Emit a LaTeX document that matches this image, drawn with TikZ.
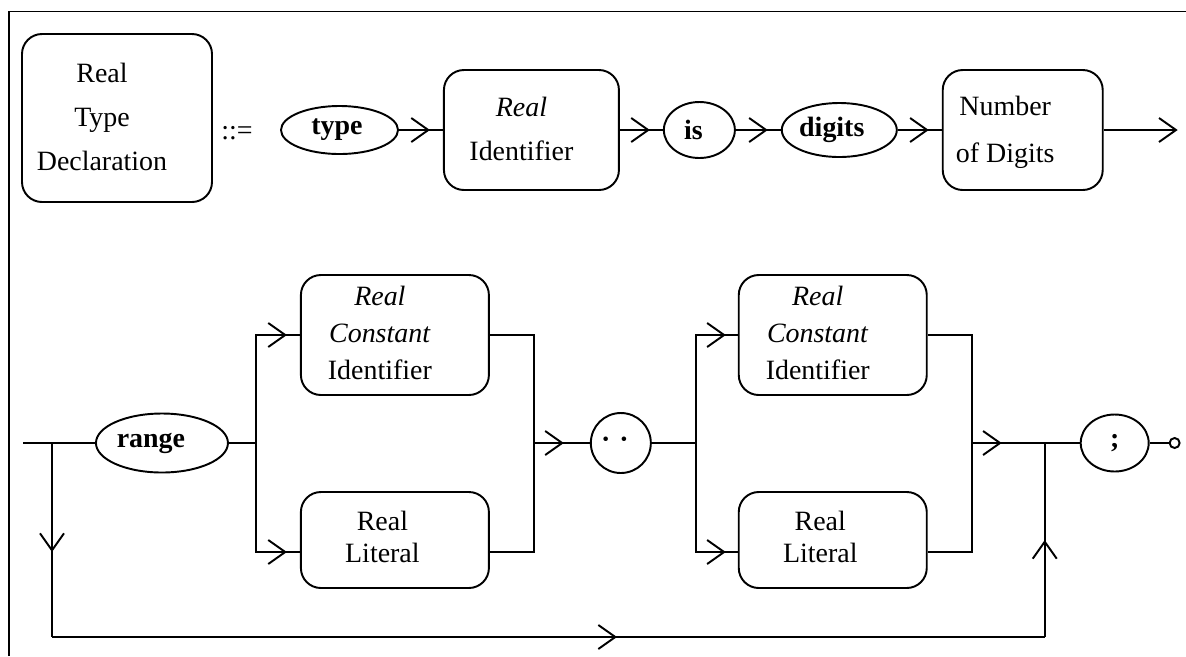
\documentclass[tikz,border=0pt]{standalone}
\usepackage{fontspec}
\setmainfont{Liberation Serif}
\usetikzlibrary{shapes.geometric,arrows.meta,positioning,decorations.markings,calc}

\newcommand{\lefted}[2][0.6cm]{\begin{tabular}{@{}c@{}}#2\end{tabular}\hspace*{#1}}

\begin{document}
\begin{tikzpicture}[line width=1.1pt,font=\fontsize{15.9}{25}\selectfont,
    box/.style={draw,rounded corners=0.4cm,align=center,inner sep=0pt},
    oval/.style={draw,ellipse,inner sep=0pt},
    chev/.style={postaction={decorate},decoration={markings,
        mark=at position #1 with {\arrow{Straight Barb[length=0.34cm,width=0.48cm]}}}},
    chev/.default=-0.26cm]

    \useasboundingbox (0,0) rectangle (23.72,-13.12);
    \draw (0.18,-13.12) -- (0.18,-0.23) -- (23.72,-0.23);

    % first line
    \node[box,minimum width=3.8cm,minimum height=3.36cm] (rtd) at (2.34,-2.36) {\lefted{Real\\Type\\Declaration}};
    \node (eq) at (4.74,-2.66) {::=};
    \node[oval,minimum width=2.34cm,minimum height=0.96cm] (type) at (6.79,-2.6) {\textbf{type}\hspace*{0.1cm}};
    \node[box,minimum width=3.5cm,minimum height=2.4cm,right=0.88cm of type] (rid) {\lefted[0.4cm]{\textit{Real}\\Identifier}};
    \node[oval,minimum width=1.42cm,minimum height=1.12cm,right=0.86cm of rid] (is) {\textbf{is}\hspace*{0.24cm}};
    \node[oval,minimum width=2.3cm,minimum height=1.08cm,right=0.9cm of is] (digits) {\textbf{digits}\hspace*{0.3cm}};
    \node[box,minimum width=3.2cm,minimum height=2.4cm,right=0.88cm of digits,font=\fontsize{15.9}{26.6}\selectfont] (nod) {\lefted[0.7cm]{Number\\of Digits}};
    \coordinate[right=1.48cm of nod] (out);

    \draw[chev] (type) -- (rid);
    \draw[chev] (rid) -- (is);
    \draw[chev] (is) -- (digits);
    \draw[chev] (digits) -- (nod);
    \draw[-{Straight Barb[length=0.34cm,width=0.48cm]}] (nod) -- (out);

    % second line
    \coordinate (start) at (0.46,-8.86);
    \coordinate[right=0.58cm of start] (jl);
    \node[oval,minimum width=2.64cm,minimum height=1.18cm,right=1.44cm of start] (range) {\textbf{range}\hspace*{0.44cm}};
    \coordinate[right=0.55cm of range] (s1);
    \node[box,minimum width=3.76cm,minimum height=2.4cm,right=0.87cm of s1,yshift=2.16cm,font=\fontsize{15.9}{21}\selectfont] (rci1) {\lefted{\textit{Real}\\\textit{Constant}\\Identifier}};
    \node[box,minimum width=3.76cm,minimum height=1.92cm,right=0.87cm of s1,yshift=-1.94cm,font=\fontsize{15.9}{18}\selectfont] (rl1) {\lefted[0.5cm]{Real\\Literal}};
    \path (rci1.east |- s1) ++(0.88,0) coordinate (m1);
    \node[draw,circle,minimum size=1.2cm,inner sep=0pt,right=1.12cm of m1] (dots) {\textbf{·\hspace{0.18cm}·}\hspace*{0.24cm}};
    \coordinate[right=0.88cm of dots] (s2);
    \node[box,minimum width=3.76cm,minimum height=2.4cm,right=0.84cm of s2,yshift=2.16cm,font=\fontsize{15.9}{21}\selectfont] (rci2) {\lefted{\textit{Real}\\\textit{Constant}\\Identifier}};
    \node[box,minimum width=3.76cm,minimum height=1.92cm,right=0.84cm of s2,yshift=-1.94cm,font=\fontsize{15.9}{18}\selectfont] (rl2) {\lefted[0.5cm]{Real\\Literal}};
    \path (rci2.east |- s2) ++(0.88,0) coordinate (m2);
    \coordinate[right=1.46cm of m2] (jr);
    \node[oval,minimum width=1.36cm,minimum height=1.14cm,right=0.7cm of jr] (semi) {\textbf{;}};
    \node[draw,circle,fill=white,minimum size=0.2cm,inner sep=0pt,right=0.38cm of semi] (stop) {};
    \coordinate[below=3.88cm of jl] (bl);
    \coordinate (br) at (jr |- bl);

    \draw (start) -- (range);
    \draw (range) -- (s1);
    \draw[chev] (s1) |- (rci1);
    \draw[chev] (s1) |- ([yshift=-0.24cm]rl1.west);
    \draw (rci1) -| (m1);
    \draw ([yshift=-0.24cm]rl1.east) -| (m1);
    \draw[chev=-0.52cm] (m1) -- (dots);
    \draw (dots) -- (s2);
    \draw[chev=-0.24cm] (s2) |- (rci2);
    \draw[chev=-0.24cm] (s2) |- ([yshift=-0.24cm]rl2.west);
    \draw (rci2) -| (m2);
    \draw ([yshift=-0.24cm]rl2.east) -| (m2);
    \draw[chev=0.6cm] (m2) -- (semi);
    \draw (semi) -- (stop);

    % skip range
    \draw[chev=2.18cm] (jl) -- (bl);
    \draw[chev=11.3cm] (bl) -- (br);
    \draw[chev=1.94cm] (br) -- (jr);

\end{tikzpicture}
\end{document}
